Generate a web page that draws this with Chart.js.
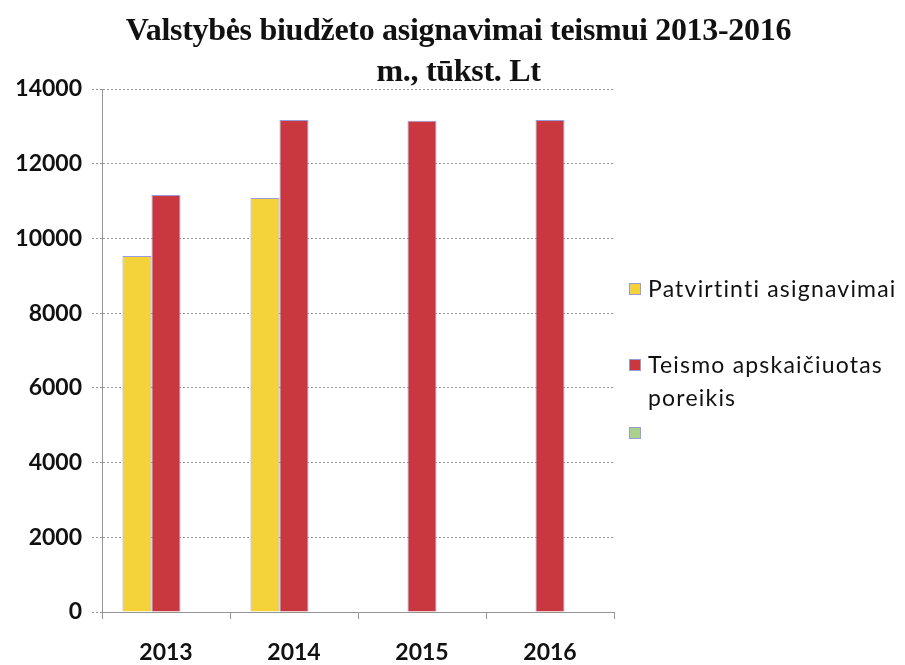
<!DOCTYPE html>
<html lang="lt">
<head>
<meta charset="utf-8">
<title>Valstybės biudžeto asignavimai teismui 2013-2016 m.</title>
<script src="https://cdn.jsdelivr.net/npm/chart.js@4/dist/chart.umd.min.js"></script>
<style>
    html, body { margin: 0; padding: 0; background: #fff; }
    #wrap { position: relative; width: 905px; height: 665px; overflow: hidden; }
    #chartTitle {
        position: absolute; left: 6px; top: 9px; width: 905px;
        text-align: center;
        font-family: 'Liberation Serif', 'Times New Roman', serif;
        font-weight: bold; font-size: 32px; line-height: 41px;
        color: #111; letter-spacing: -0.3px;
    }
    #legend { position: absolute; left: 629px; top: 0; width: 276px; }
    .legend-item {
        position: absolute; left: 0; width: 270px;
        font-family: Lato, 'Open Sans', sans-serif;
        font-size: 23px; line-height: 33px; color: #111;
        letter-spacing: 1.2px;
    }
    .legend-box {
        position: absolute; left: 0; top: 11px; width: 10px; height: 10px;
        border: 1px solid #9a9ad8;
    }
    .legend-text { display: block; margin-left: 19px; width: 250px; }
</style>
</head>
<body>
<div id="wrap">
    <canvas id="budgetChart" width="905" height="665"></canvas>
    <div id="chartTitle"></div>
    <div id="legend"></div>
</div>
<script>
// Data
const titleLines = ['Valstybės biudžeto asignavimai teismui 2013-2016', 'm., tūkst. Lt'];
const years = ['2013', '2014', '2015', '2016'];
const approved = [9530, 11080, null, null];        // Patvirtinti asignavimai
const courtNeed = [11160, 13170, 13150, 13170];    // Teismo apskaičiuotas poreikis
const emptySeries = [null, null, null, null];      // third series, no values
const seriesLabels = ['Patvirtinti asignavimai', 'Teismo apskaičiuotas poreikis', ''];
const seriesColors = ['#f3d23a', '#c9383f', '#a9d18e'];
const yTicks = [0, 2000, 4000, 6000, 8000, 10000, 12000, 14000];

const gridColor = '#959595';
const tickFont = { family: 'Lato', size: 23, weight: 'bold' };

// Title
document.getElementById('chartTitle').innerHTML = titleLines.join('<br>');

// Legend (tops of each entry)
const legendTops = [272, 348, 416];
const legendEl = document.getElementById('legend');
seriesLabels.forEach(function(label, i) {
    const item = document.createElement('div');
    item.className = 'legend-item';
    item.style.top = legendTops[i] + 'px';
    item.innerHTML = '<span class="legend-box" style="background:' + seriesColors[i] + '"></span>' +
        '<span class="legend-text">' + (label || '&nbsp;') + '</span>';
    legendEl.appendChild(item);
});

const seriesData = [approved, courtNeed, emptySeries];

const ctx = document.getElementById('budgetChart');
new Chart(ctx, {
    type: 'bar',
    data: {
        labels: years,
        datasets: seriesData.map(function(values, i) {
            return {
                label: seriesLabels[i],
                data: values,
                backgroundColor: seriesColors[i],
                borderColor: '#9b9bdc',
                borderWidth: 1,
                barPercentage: 1,
                categoryPercentage: 0.68
            };
        })
    },
    options: {
        responsive: false,
        animation: false,
        layout: { padding: { top: 89, right: 291, bottom: 0, left: 0 } },
        plugins: {
            legend: { display: false },
            title: { display: false },
            tooltip: { enabled: false }
        },
        scales: {
            x: {
                afterFit: function(scale) { scale.height = 53; },
                grid: {
                    drawOnChartArea: false,
                    drawTicks: true,
                    tickLength: 7,
                    color: gridColor
                },
                border: { color: gridColor, width: 1 },
                ticks: {
                    color: '#111',
                    font: tickFont,
                    padding: 20
                }
            },
            y: {
                min: 0,
                max: 14000,
                afterFit: function(scale) { scale.width = 102; },
                afterBuildTicks: function(scale) {
                    scale.ticks = yTicks.map(function(v) { return { value: v }; });
                },
                grid: {
                    color: gridColor,
                    tickLength: 10,
                    tickBorderDash: [2, 2]
                },
                border: { color: gridColor, width: 1, dash: [2, 2] },
                ticks: {
                    color: '#111',
                    font: tickFont,
                    padding: 10,
                    callback: function(value) { return String(value); }
                }
            }
        }
    }
});
</script>
</body>
</html>
